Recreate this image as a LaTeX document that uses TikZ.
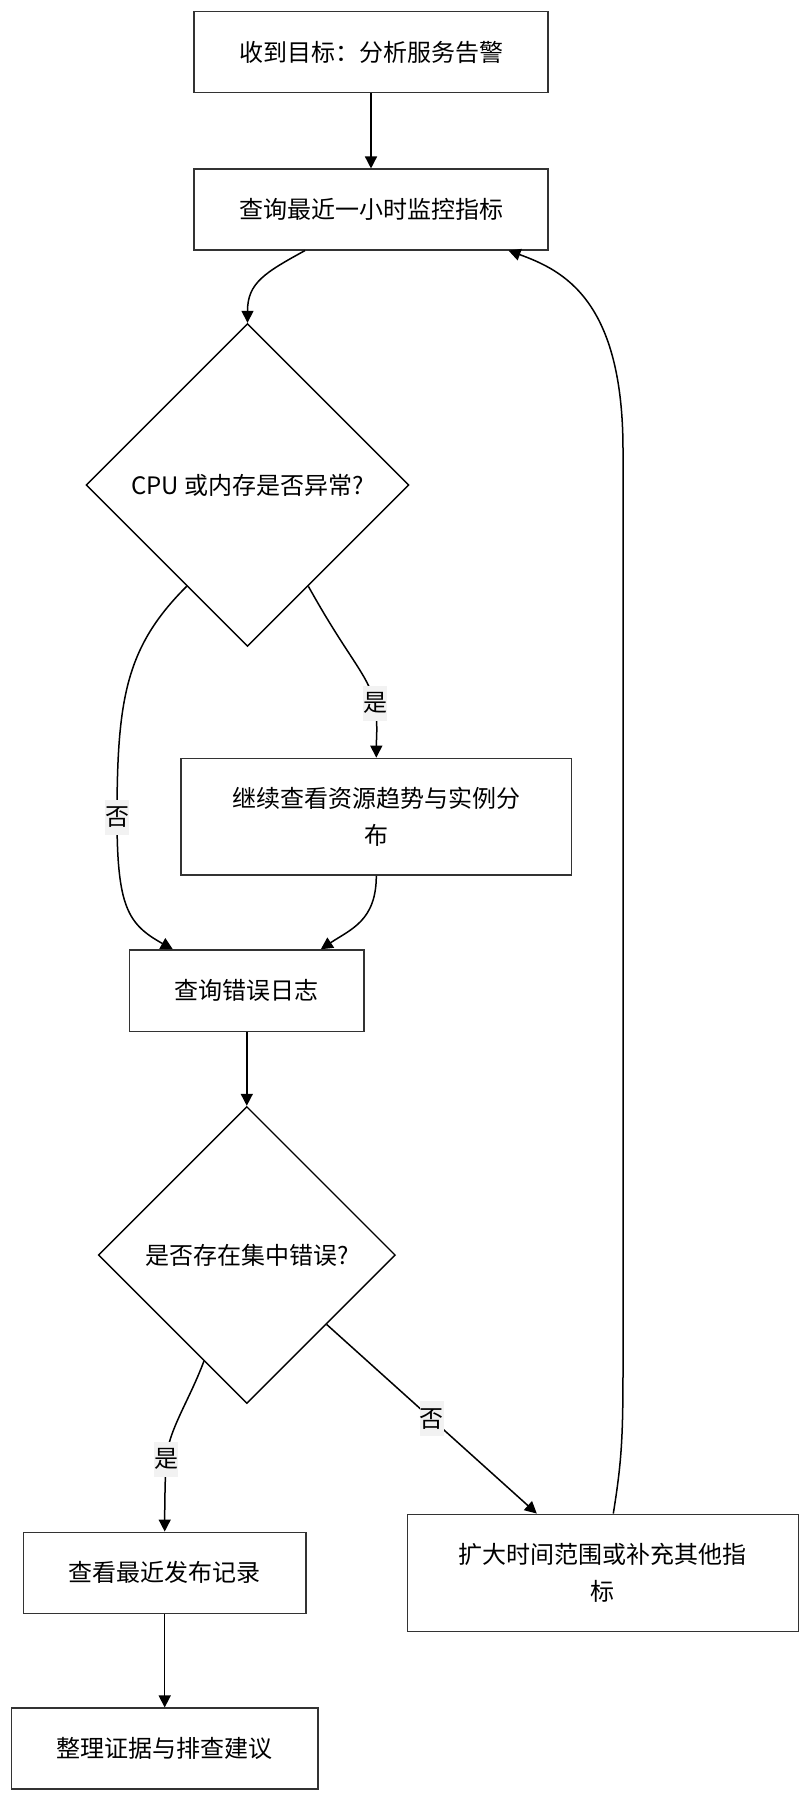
\documentclass[tikz,border=0pt]{standalone}
\usepackage{fontspec}
\setmainfont{Noto Sans CJK SC}
\usepackage{tikz}
\usetikzlibrary{positioning,shapes.geometric,arrows.meta}

\begin{document}
\begin{tikzpicture}[x=0.5pt,y=-0.5pt,
      every node/.style={align=center,inner sep=0pt,font=\fontsize{12pt}{18.5pt}\selectfont},
      box/.style={draw=black!80,line width=0.75pt,fill=white},
      decision/.style={diamond,draw,line width=0.7pt,aspect=1},
      lbl/.style={fill=black!5,minimum width=12pt,minimum height=17.5pt},
      edge/.style={line width=0.75pt,-{Triangle[length=6pt,width=6pt]}}]
    \useasboundingbox (0,0) rectangle (810,1799);
    \node[box,minimum width=177pt,minimum height=40.5pt] (b1) at (371,52.2) {收到目标：分析服务告警};
    \node[box,minimum width=177pt,minimum height=40.3pt,below=37.5pt of b1] (b2) {查询最近一小时监控指标};
    \node[decision,minimum width=161.5pt,minimum height=161.5pt] (d1) at (247.5,485) {CPU 或内存是否异常?};
    \node[box,minimum width=195.3pt,minimum height=58.3pt] (b3) at (376.3,816.7) {继续查看资源趋势与实例分\\布};
    \node[box,minimum width=117.3pt,minimum height=40.8pt] (b4) at (246.8,990.8) {查询错误日志};
    \node[decision,minimum width=148.5pt,minimum height=148.5pt] (d2) at (246.8,1255) {是否存在集中错误?};
    \node[box,minimum width=141.3pt,minimum height=40.5pt] (b5) at (164.7,1572.8) {查看最近发布记录};
    \node[box,minimum width=195.5pt,minimum height=58.7pt] (b6) at (602.8,1573) {扩大时间范围或补充其他指\\标};
    \node[box,minimum width=153.3pt,minimum height=40.3pt,below=46.7pt of b5] (b7) {整理证据与排查建议};

    \draw[edge] (b1) -- (b2);
    \draw[edge] ([xshift=-33pt]b2.south) .. controls +(-40,22) and +(0,-40) .. (d1.north);
    \draw[edge] (d1.-59.4) .. controls +(40,72) and +(-8,-30) .. (375,703) node[lbl] {是}
      .. controls +(3,25) and +(0,-20) .. (b3.north);
    \draw[edge] (d1.-121.6) .. controls +(-60,60) and +(0,-120) .. (117,817) node[lbl] {否}
      .. controls +(0,90) and +(-45,-25) .. ([xshift=-37pt]b4.north);
    \draw[edge] (b3.south) .. controls +(0,45) and +(30,-20) .. ([xshift=37pt]b4.north);
    \draw[edge] (b4.south) -- (d2.north);
    \draw[edge] (d2.-112.3) .. controls +(-15,40) and +(3,-30) .. (166,1459) node[lbl] {是}
      .. controls +(-1,25) and +(0,-25) .. (b5.north);
    \draw[edge] (d2.-41.3) -- node[lbl] {否} ([xshift=-33pt]b6.north);
    \draw[edge] (b5) -- (b7);
    \draw[edge] ([xshift=5.25pt]b6.north) .. controls +(8,-50) and +(0,70) .. (623,1370) -- (623,450)
      .. controls +(0,-150) and +(55,20) .. ([xshift=68.75pt]b2.south);
  \end{tikzpicture}
\end{document}
